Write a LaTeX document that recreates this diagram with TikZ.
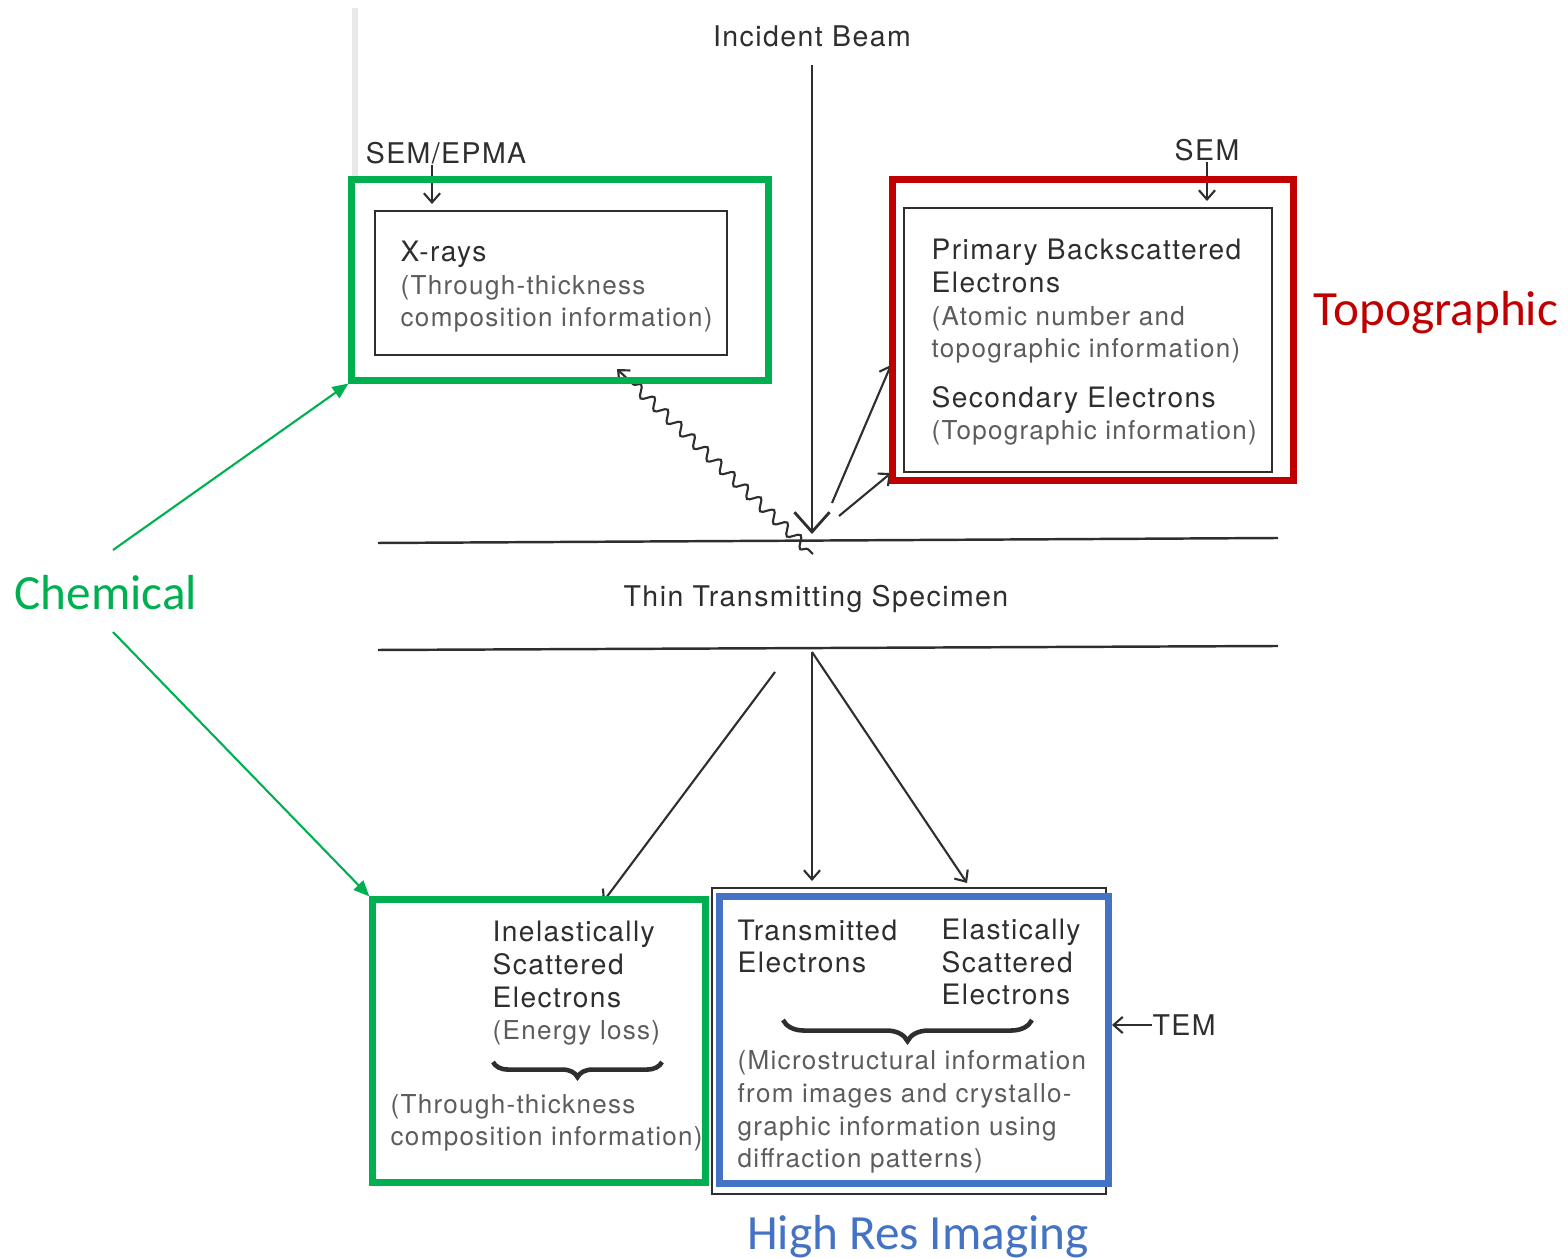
\documentclass[tikz,border=0pt]{standalone}
\usepackage{fontspec}
\newfontfamily\scanfont[LetterSpace=5]{TeX Gyre Heros}
\newfontfamily\notefont{Carlito}
\usetikzlibrary{arrows.meta, positioning, calc, decorations.pathmorphing, decorations.pathreplacing}
\definecolor{markgreen}{HTML}{00B050}
\definecolor{markred}{HTML}{C00000}
\definecolor{markblue}{HTML}{4472C4}
\definecolor{inkdark}{HTML}{2E2E2E}
\definecolor{inklight}{HTML}{5C5C5C}
\newcommand{\paren}[1]{{\fontsize{7.4}{9.3}\selectfont\color{inklight}#1}}

\begin{document}
\begin{tikzpicture}[
    x=0.01cm, y=-0.01cm,
    >={Straight Barb[length=2.6pt,width=4.6pt]},
    scanbox/.style={draw=inkdark, line width=0.6pt, inner sep=0pt},
    markbox/.style={draw=#1, line width=2pt, inner sep=0pt},
    scantext/.style={inner sep=0pt, anchor=base west, align=left, text=inkdark,
      font=\scanfont\fontsize{8}{9.3}\selectfont},
    captext/.style={inner sep=0pt, text=inkdark, font=\scanfont\fontsize{8.1}{9.3}\selectfont},
    note/.style={inner sep=0pt, anchor=base, text=#1, font=\notefont\fontsize{14}{16}\selectfont},
    ray/.style={->, draw=inkdark, line width=0.6pt},
    pointer/.style={-{Triangle[length=4.5pt,width=3.8pt]}, draw=markgreen, line width=0.6pt},
    brace/.style={decorate, decoration={brace, mirror, amplitude=#1}, draw=inkdark, line width=1.3pt}
  ]
  \useasboundingbox (0,0) rectangle (1568,1258);

  % edge of the scanned page
  \draw[gray!18, line width=1.6pt] (355,8) -- (355,178);

  % specimen
  \coordinate (topL) at (378,543);
  \coordinate (topR) at (1278,538);
  \coordinate (botL) at (378,650);
  \coordinate (botR) at (1278,646);
  \draw[inkdark, line width=0.7pt] (topL) -- (topR);
  \draw[inkdark, line width=0.7pt] (botL) -- (botR);
  \node[captext] (spec) at (816,599) {Thin Transmitting Specimen};

  % boxes of the original figure
  \node[scanbox, minimum width=3.52cm, minimum height=1.44cm] (xray) at (551,283) {};
  \node[scanbox, minimum width=3.67cm, minimum height=2.64cm] (sembox) at (1088,340) {};
  \node[scanbox, minimum width=3.93cm, minimum height=3.05cm] (tembox) at (909,1041) {};

  % texts sit on the baseline of their last line
  \node[scantext] (xraytext) at (400,327)
    {X-rays\\\paren{(Through-thickness}\\\paren{composition information)}};
  \node[scantext] (bsetext) at (931,358)
    {Primary Backscattered\\Electrons\\\paren{(Atomic number and}\\\paren{topographic information)}};
  \node[scantext] (setext) at (931,440)
    {Secondary Electrons\\\paren{(Topographic information)}};
  \node[scantext] (inelastic) at (492,1040)
    {Inelastically\\Scattered\\Electrons\\\paren{(Energy loss)}};
  \node[scantext] (thickness) at (390,1146)
    {\paren{(Through-thickness}\\\paren{composition information)}};
  \node[scantext] (transmitted) at (737,973) {Transmitted\\Electrons};
  \node[scantext] (elastic) at (941,1005) {Elastically\\Scattered\\Electrons};
  \node[scantext] (micro) at (737,1168)
    {\paren{(Microstructural information}\\\paren{from images and crystallo-}\\\paren{graphic information using}\\\paren{diffraction patterns)}};

  \draw[brace=4.3pt] (493,1062) -- (662,1062);
  \draw[brace=6pt] (783,1020) -- (1032,1020);

  % instruments
  \node[captext] (beam) at (812,36) {Incident Beam};
  \node[captext] (semepma) at (446,153) {SEM/EPMA};
  \node[captext] (sem) at (1207,150) {SEM};
  \node[captext] (tem) at (1184,1025) {TEM};
  \coordinate (epmatip) at (432,204);
  \coordinate (semtip) at (1207,201);
  \coordinate (temtip) at (1112,1025);
  \draw[ray] (semepma.south -| epmatip) -- (epmatip);
  \draw[ray] (sem.south) -- (semtip);
  \draw[ray] (tem.west) -- (temtip);

  % beam and signals
  \coordinate (hit) at (812,534);
  \draw[-{Straight Barb[length=5.6pt,width=10pt]}, inkdark, line width=0.8pt, shorten <=5pt] (beam.south) -- (hit);
  \coordinate (bsestart) at (832,503);
  \coordinate (bsetip) at (891,365);
  \coordinate (sestart) at (839,516);
  \coordinate (setip) at (891,473);
  \draw[ray] (bsestart) -- (bsetip);
  \draw[ray] (sestart) -- (setip);
  \coordinate (wavestart) at (813,554);
  \coordinate (xraytip) at (617,369);
  \draw[ray, decorate, decoration={snake, segment length=5.2pt, amplitude=1.5pt, pre length=2pt, post length=4pt}] (wavestart) -- (xraytip);

  \coordinate (exit) at (812,652);
  \coordinate (transtip) at (812,881);
  \coordinate (elastip) at (967,883);
  \coordinate (inelstart) at (775,672);
  \coordinate (ineltip) at (603,902);
  \draw[ray] (exit) -- (transtip);
  \draw[ray] (exit) -- (elastip);
  \draw[ray] (inelstart) -- (ineltip);

  % coloured markings
  \node[markbox=markgreen, minimum width=4.16cm, minimum height=2.0cm] (xraymark) at (560,280) {};
  \node[markbox=markred, minimum width=4.0cm, minimum height=3.01cm] (topomark) at (1093,330) {};
  \node[markbox=markgreen, minimum width=3.32cm, minimum height=2.82cm] (inelmark) at (539,1041) {};
  \node[markbox=markblue, minimum width=3.89cm, minimum height=2.86cm] (imagemark) at (914,1040) {};

  \node[note=markred] (topo) at (1436,326) {Topographic};
  \node[note=markgreen] (chem) at (106,610) {Chemical};
  \node[note=markblue] (hires) at (918,1250) {High Res Imaging};

  \coordinate (chemup) at (113,550);
  \coordinate (chemdown) at (113,632);
  \draw[pointer] (chemup) -- (xraymark.south west);
  \draw[pointer] (chemdown) -- (inelmark.north west);

\end{tikzpicture}
\end{document}
